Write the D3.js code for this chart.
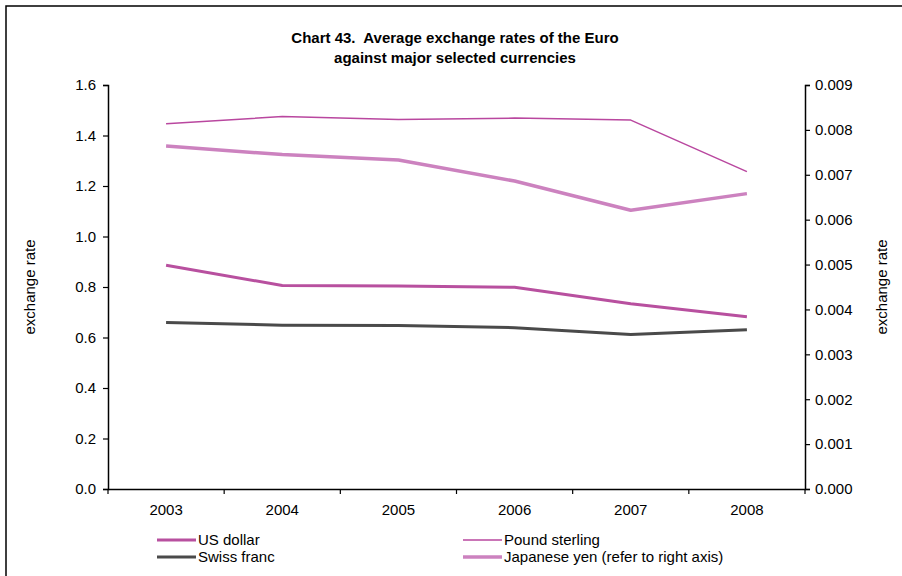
<!DOCTYPE html>
<html><head><meta charset="utf-8">
<script src="https://cdn.jsdelivr.net/npm/d3@7"></script>
<style>body{margin:0;background:#fff}svg{display:block;font-family:"Liberation Sans",Arial,Helvetica,sans-serif}</style>
</head><body><svg id="c" width="902" height="576"></svg>
<script>
const years = ["2003","2004","2005","2006","2007","2008"];
const usDollar = [0.886, 0.806, 0.804, 0.799, 0.734, 0.682];
const poundSterling = [1.447, 1.475, 1.463, 1.469, 1.461, 1.257];
const swissFranc = [0.659, 0.649, 0.648, 0.639, 0.612, 0.631];
const japaneseYen = [0.00764, 0.00745, 0.00733, 0.00686, 0.00621, 0.00658];
const leftTicks = [0,0.2,0.4,0.6,0.8,1.0,1.2,1.4,1.6];
const rightTicks = [0,0.001,0.002,0.003,0.004,0.005,0.006,0.007,0.008,0.009];

const FS = 15;
const svg = d3.select("#c");
const L = 108, R = 805, T = 85, B = 489;

svg.append("rect").attr("x",6).attr("y",6).attr("width",910).attr("height",590)
  .attr("fill","none").attr("stroke","#000").attr("stroke-width",1.5);

const x = d3.scaleBand().domain(years).range([L,R]);
const yL = d3.scaleLinear().domain([0,1.6]).range([B,T]);
const yR = d3.scaleLinear().domain([0,0.009]).range([B,T]);

const gL = svg.append("g").attr("transform",`translate(${L},0)`)
  .call(d3.axisLeft(yL).tickValues(leftTicks).tickFormat(d3.format(".1f")).tickSizeOuter(0).tickSize(5).tickPadding(7));
const gR = svg.append("g").attr("transform",`translate(${R},0)`)
  .call(d3.axisRight(yR).tickValues(rightTicks).tickFormat(d3.format(".3f")).tickSizeOuter(0).tickSize(5).tickPadding(5));
const gX = svg.append("g").attr("transform",`translate(0,${B})`)
  .call(d3.axisBottom(x).tickSize(0).tickSizeOuter(0).tickPadding(15));
const bounds = years.map(y=>x(y)).concat([x(years[years.length-1])+x.bandwidth()]);
svg.append("g").selectAll("line").data(bounds).join("line")
  .attr("x1",d=>d).attr("x2",d=>d).attr("y1",B).attr("y2",B+5).attr("stroke","#000").attr("stroke-width",1.2);

[gL,gR,gX].forEach(g=>{
  g.selectAll(".domain").attr("stroke","#000").attr("stroke-width",1.5);
  g.selectAll(".tick line").attr("stroke","#000").attr("stroke-width",1.2);
  g.selectAll("text").attr("font-size",FS).attr("fill","#000").style("font-family","Liberation Sans, Arial, sans-serif");
});

const cx = d=>x(d)+x.bandwidth()/2;
const lineL = d3.line().x((d,i)=>cx(years[i])).y(d=>yL(d));
const lineR = d3.line().x((d,i)=>cx(years[i])).y(d=>yR(d));

const series = [
  {name:"Swiss franc", vals:swissFranc, line:lineL, color:"#4a4a4a", w:3},
  {name:"US dollar", vals:usDollar, line:lineL, color:"#b8509f", w:3},
  {name:"Japanese yen (refer to right axis)", vals:japaneseYen, line:lineR, color:"#cc82bf", w:3.5},
  {name:"Pound sterling", vals:poundSterling, line:lineL, color:"#b9479f", w:1.5}
];
series.forEach(s=>{
  svg.append("path").attr("d",s.line(s.vals)).attr("fill","none")
    .attr("stroke",s.color).attr("stroke-width",s.w).attr("stroke-linejoin","round");
});

svg.append("text").attr("x",455).attr("y",43).attr("text-anchor","middle").style("white-space","pre")
  .attr("font-weight","bold").attr("font-size",FS).text("Chart 43.  Average exchange rates of the Euro");
svg.append("text").attr("x",455).attr("y",63).attr("text-anchor","middle")
  .attr("font-weight","bold").attr("font-size",FS).text("against major selected currencies");

svg.append("text").attr("transform","translate(35,287) rotate(-90)").attr("text-anchor","middle")
  .attr("font-size",FS).text("exchange rate");
svg.append("text").attr("transform","translate(887,287) rotate(-90)").attr("text-anchor","middle")
  .attr("font-size",FS).text("exchange rate");

const legend = [
  {s:series[1], x:157, y:540},
  {s:series[0], x:157, y:557},
  {s:series[3], x:463, y:540},
  {s:series[2], x:463, y:557}
];
legend.forEach(l=>{
  svg.append("line").attr("x1",l.x).attr("x2",l.x+39).attr("y1",l.y).attr("y2",l.y)
    .attr("stroke",l.s.color).attr("stroke-width",l.s.w);
  svg.append("text").attr("x",l.x+41).attr("y",l.y+5).attr("font-size",FS).text(l.s.name);
});
</script></body></html>
